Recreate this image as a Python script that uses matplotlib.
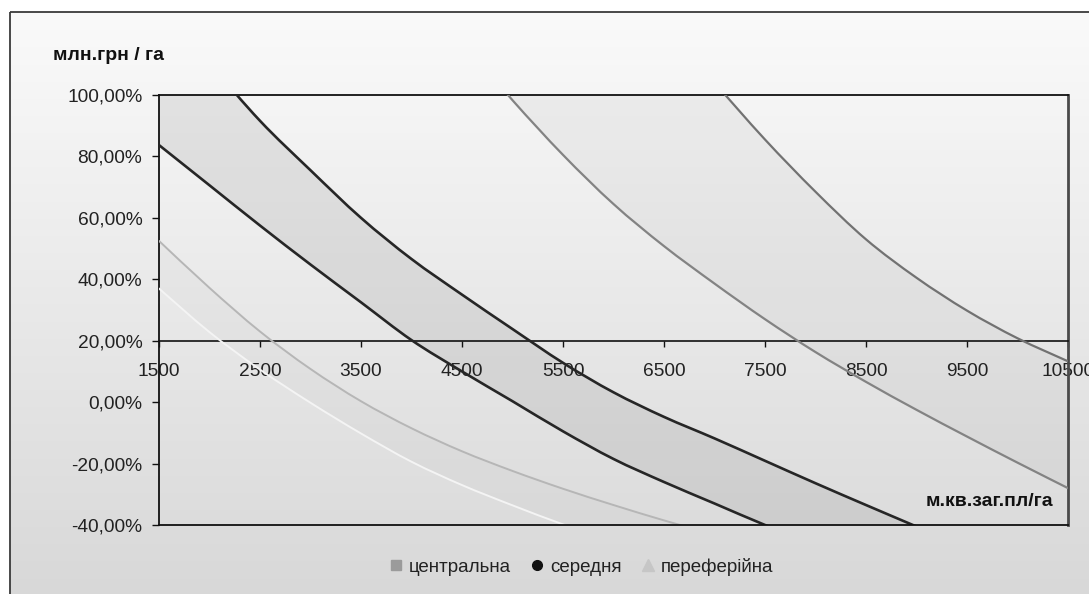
import numpy as np
import matplotlib
matplotlib.use('Agg')
import matplotlib.pyplot as plt
from matplotlib.lines import Line2D
from matplotlib.patches import Rectangle, PathPatch
from matplotlib.path import Path
from matplotlib.ticker import FixedLocator, FuncFormatter

plt.rcParams['font.family'] = ['Liberation Sans', 'DejaVu Sans']

# ---------------- data ----------------
series_names = ['центральна', 'середня', 'переферійна']
x_ticks = [1500, 2500, 3500, 4500, 5500, 6500, 7500, 8500, 9500, 10500]
y_ticks = [-40, -20, 0, 20, 40, 60, 80, 100]

# середня (middle zone) - upper and lower boundaries
mid_up_x = [1500, 2000, 2500, 3000, 3500, 4000, 4500, 5000, 5500, 6000,
            6500, 7000, 7500, 8000, 8500, 9000, 9500]
mid_up_y = [131, 110.5, 91.6, 75.5, 60.0, 46.6, 35.0, 23.8, 12.8, 3.2,
            -4.8, -11.8, -19.1, -26.4, -33.5, -40.5, -47.5]
mid_lo_x = [1500, 2000, 2500, 3000, 3500, 4000, 4500, 5000, 5500, 6000,
            6500, 7000, 7500, 8000]
mid_lo_y = [83.7, 70.6, 57.5, 44.8, 32.5, 20.2, 10.0, 0.3, -9.5, -18.5,
            -26.0, -33.0, -40.0, -46.5]

# центральна (central zone) - left and right boundaries
cen_lo_x = [4500, 5000, 5500, 6000, 6500, 7000, 7500, 8000, 8500, 9000,
            9500, 10000, 10500]
cen_lo_y = [117.5, 98.3, 80.5, 64.5, 50.8, 38.6, 27.0, 16.3, 6.6, -2.5,
            -11.2, -19.7, -28.0]
cen_up_x = [7000, 7500, 8000, 8500, 9000, 9500, 10000, 10500]
cen_up_y = [104, 85.5, 68.5, 53, 40.5, 29.8, 20.8, 13.3]

# переферійна (peripheral zone) - upper and lower boundaries
per_up_x = [1500, 2000, 2500, 3000, 3500, 4000, 4500, 5000, 5500, 6000,
            6500, 7000]
per_up_y = [52.5, 37.2, 23.0, 10.8, 0.3, -8.5, -16.0, -22.4, -28.2, -33.5,
            -38.5, -43.2]
per_lo_x = [1500, 2000, 2500, 3000, 3500, 4000, 4500, 5000, 5500, 6000]
per_lo_y = [37.0, 22.8, 10.6, -0.2, -10.2, -19.4, -27.0, -33.6, -39.8, -45.5]

# ---------------- figure ----------------
W, H = 1089, 594
fig = plt.figure(figsize=(W / 100, H / 100), dpi=100)
fig.patch.set_facecolor('white')

# chart-area background with vertical gradient and border
bg = fig.add_axes([0, 0, 1, 1], zorder=-10)
bg.set_xlim(0, W)
bg.set_ylim(H, 0)
bg.axis('off')
g = np.linspace(250, 215, 256)[:, None] / 255.0
grad = np.dstack([g, g, g])
bg.imshow(grad, extent=(10, W + 20, H + 20, 12), aspect='auto', interpolation='bilinear')
bg.add_patch(Rectangle((10, 12), W + 10, H + 10, fill=False, edgecolor='#3a3a3a', lw=1.3))

# plot area
L, R, T, B = 159, 1068, 95, 525
ax = fig.add_axes([L / W, 1 - B / H, (R - L) / W, (B - T) / H])
ax.set_facecolor('none')
ax.set_xlim(1500, 10500)
ax.set_ylim(-40, 100)


def smooth_path(xs, ys):
    """Smoothed (Excel-like) Bezier path passing through the data points."""
    P = np.column_stack([xs, ys]).astype(float)
    n = len(P)
    Pe = np.vstack([P[0], P, P[-1]])
    verts = [P[0]]
    for i in range(n - 1):
        p0, p1, p2, p3 = Pe[i], Pe[i + 1], Pe[i + 2], Pe[i + 3]
        verts += [p1 + (p2 - p0) / 6.0, p2 - (p3 - p1) / 6.0, p2]
    codes = [Path.MOVETO] + [Path.CURVE4] * (3 * (n - 1))
    return verts, codes


def curve(xs, ys, color, lw):
    v, c = smooth_path(xs, ys)
    ax.add_patch(PathPatch(Path(v, c), fill=False, edgecolor=color, lw=lw,
                           zorder=4, capstyle='round', joinstyle='round'))


def band(xa, ya, xb, yb, color, alpha):
    va, ca = smooth_path(xa, ya)
    vb, cb = smooth_path(xb[::-1], yb[::-1])
    cb = [Path.LINETO] + cb[1:]
    verts = va + vb + [va[0]]
    codes = ca + cb + [Path.CLOSEPOLY]
    ax.add_patch(PathPatch(Path(verts, codes), facecolor=color, alpha=alpha,
                           edgecolor='none', zorder=1))


band(per_up_x, per_up_y, per_lo_x, per_lo_y, '#9a9a9a', 0.06)
band(cen_lo_x, cen_lo_y, cen_up_x, cen_up_y, '#9a9a9a', 0.10)
band(mid_up_x, mid_up_y, mid_lo_x, mid_lo_y, '#8c8c8c', 0.18)

curve(per_lo_x, per_lo_y, '#f4f4f4', 1.4)
curve(per_up_x, per_up_y, '#b6b6b6', 1.4)
curve(cen_lo_x, cen_lo_y, '#838383', 1.6)
curve(cen_up_x, cen_up_y, '#727272', 1.6)
curve(mid_up_x, mid_up_y, '#262626', 1.9)
curve(mid_lo_x, mid_lo_y, '#262626', 1.9)

# axes frame
ax.spines['bottom'].set_position(('data', 20))
ax.spines['bottom'].set_color('#111111')
ax.spines['bottom'].set_linewidth(1.2)
ax.spines['bottom'].set_zorder(3)
ax.spines['left'].set_color('#111111')
ax.spines['left'].set_linewidth(1.3)
ax.spines['top'].set_color('#111111')
ax.spines['top'].set_linewidth(1.3)
ax.spines['right'].set_color('#4a4a4a')
ax.spines['right'].set_linewidth(2.0)
ax.axhline(-40, color='#111111', lw=1.3, clip_on=False, zorder=5)

ax.xaxis.set_major_locator(FixedLocator(x_ticks))
ax.yaxis.set_major_locator(FixedLocator(y_ticks))
ax.yaxis.set_major_formatter(FuncFormatter(lambda v, p: f"{v:.2f}".replace('.', ',') + '%'))
ax.tick_params(axis='x', direction='out', length=4, width=1.0, pad=12,
               labelsize=13.8, colors='#111111', labelcolor='#222222')
ax.tick_params(axis='y', direction='out', length=5, width=1.0, pad=7,
               labelsize=13.8, colors='#111111', labelcolor='#222222')

# axis titles
fig.text(53 / W, 1 - 55 / H, 'млн.грн / га', fontsize=14, fontweight='bold',
         ha='left', va='center', color='#111111')
fig.text(1053 / W, 1 - 502 / H, 'м.кв.заг.пл/га', fontsize=14, fontweight='bold',
         ha='right', va='center', color='#111111')

# legend
handles = [
    Line2D([], [], ls='none', marker='s', markersize=7, color='#9b9b9b'),
    Line2D([], [], ls='none', marker='o', markersize=7, color='#111111'),
    Line2D([], [], ls='none', marker='^', markersize=8, color='#c6c6c6'),
]
fig.legend(handles, series_names, loc='center', bbox_to_anchor=(581 / W, 1 - 567 / H),
           ncol=3, frameon=False, fontsize=13.5, handlelength=0.8, handletextpad=0.3,
           columnspacing=1.0, labelcolor='#222222')

fig.savefig('out.png', dpi=100)
